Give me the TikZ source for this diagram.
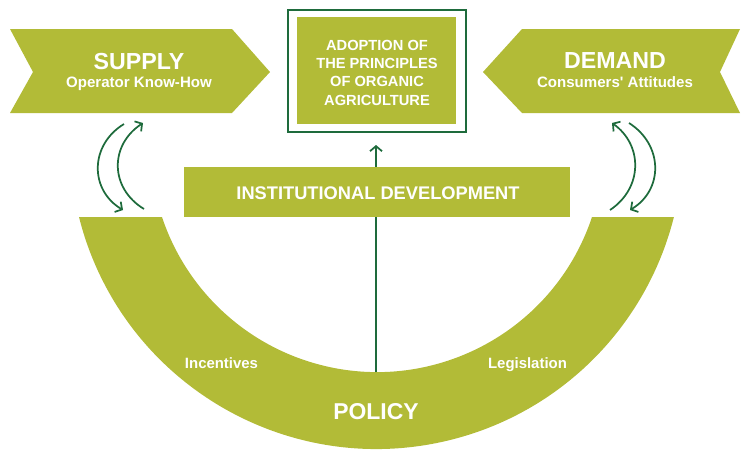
\documentclass[tikz,border=0pt]{standalone}
\usepackage{fontspec}
\setmainfont{Liberation Sans}[Ligatures=TeXOff]
\usetikzlibrary{arrows.meta}
\definecolor{oliveg}{HTML}{B2BB37}
\definecolor{dgreen}{HTML}{1E6B3C}
\begin{document}
\begin{tikzpicture}[x=0.75pt,y=-0.75pt,
  shapefill/.style={fill=oliveg,draw=none},
  lbl/.style={text=white,font=\bfseries,align=center,inner sep=0pt},
  bigtxt/.style={lbl,font=\fontsize{17.4}{20}\selectfont\bfseries},
  subtxt/.style={lbl,font=\fontsize{11.3}{13}\selectfont\bfseries},
  cyc/.style={draw=dgreen,line width=1.3pt,-{Straight Barb[length=3.8pt,width=9pt,line width=1.3pt]}}]
\useasboundingbox (0,0) rectangle (744,450);

% SUPPLY chevron
\path[shapefill] (10,29) -- (232,29) -- (270,72) -- (232,113) -- (10,113) -- (33,72) -- cycle;
\node[bigtxt,anchor=base] (supply) at (139,69) {SUPPLY};
\node[subtxt,anchor=base] (supplysub) at (139,87.5) {Operator Know-How};

% DEMAND chevron
\path[shapefill] (522,29) -- (740,29) -- (720,72) -- (740,113) -- (522,113) -- (483,72) -- cycle;
\node[bigtxt,anchor=base] (demand) at (615,68.5) {DEMAND};
\node[subtxt,anchor=base] (demandsub) at (615,87) {Consumers' Attitudes};

% Adoption box
\draw[dgreen,line width=1.5pt] (288,10) rectangle (466,132);
\path[shapefill] (297,17) rectangle (456,124);
\node[lbl,font=\fontsize{11}{13.7}\selectfont\bfseries] (adopt) at (377,72.8)
  {ADOPTION OF\\THE PRINCIPLES\\OF ORGANIC\\AGRICULTURE};
\coordinate (adoptbot) at (376,145);

% Policy band
\path[shapefill] (79,217) arc[start angle=165.9,end angle=14.1,radius=306.7]
  -- (592,217) arc[start angle=18.4,end angle=161.6,radius=226.6] -- cycle;
\coordinate (policytop) at (376,372);
\node[lbl,font=\fontsize{17.2}{20}\selectfont\bfseries] (policy) at (376,411.7) {POLICY};
\node[subtxt,font=\fontsize{11.2}{13}\selectfont\bfseries,anchor=base] (incent) at (221.5,368) {Incentives};
\node[subtxt,font=\fontsize{11.2}{13}\selectfont\bfseries,anchor=base] (legis) at (527.5,368) {Legislation};

% vertical connector
\draw[cyc] (policytop) -- (adoptbot);

% Institutional development bar
\path[shapefill] (184,167) rectangle (570,217);
\node[lbl,font=\fontsize{13.7}{16}\selectfont\bfseries] (inst) at (378,193) {INSTITUTIONAL DEVELOPMENT};

% left cycle arrows
\coordinate (la1) at (124,124); \coordinate (la2) at (123,210);
\coordinate (lb1) at (144,209); \coordinate (lb2) at (143,123);
\draw[cyc] (la1) .. controls (89.5,145) and (89.5,190) .. (la2);
\draw[cyc] (lb1) .. controls (109.5,188) and (109.5,145) .. (lb2);

% right cycle arrows
\coordinate (rc1) at (610,210); \coordinate (rc2) at (612,123);
\coordinate (rd1) at (629,123); \coordinate (rd2) at (630,210);
\draw[cyc] (rc1) .. controls (643,188) and (643,145) .. (rc2);
\draw[cyc] (rd1) .. controls (663.5,145) and (663.5,190) .. (rd2);
\end{tikzpicture}
\end{document}
